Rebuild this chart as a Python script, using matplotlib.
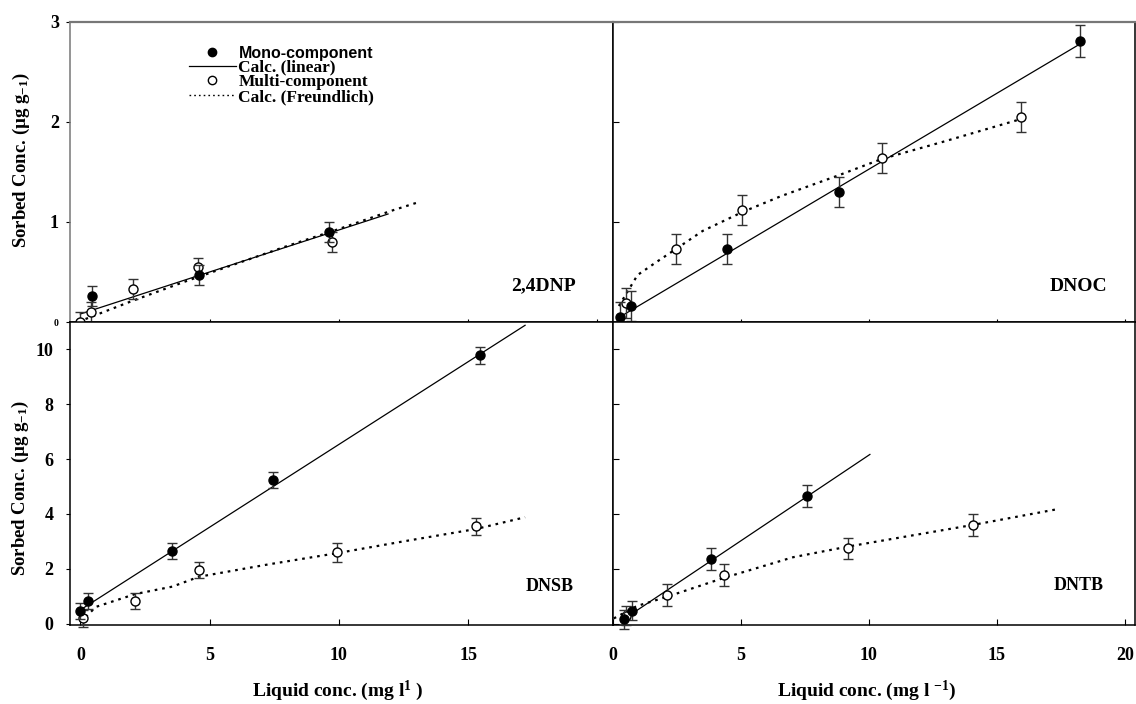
"""Sorption isotherms of four dinitro compounds: mono- vs multi-component."""
import matplotlib
matplotlib.use("Agg")
import matplotlib.pyplot as plt
from matplotlib.lines import Line2D

plt.rcParams["font.family"] = ["Liberation Serif", "DejaVu Serif"]
plt.rcParams["font.weight"] = "bold"
plt.rcParams["mathtext.fontset"] = "custom"
plt.rcParams["mathtext.rm"] = "Liberation Serif:bold"
plt.rcParams["mathtext.it"] = "Liberation Serif:bold"
plt.rcParams["mathtext.bf"] = "Liberation Serif:bold"

# ---------------------------------------------------------------------
# Data
# ---------------------------------------------------------------------
# 2,4DNP
DNP_MONO_X = [0.45, 4.6, 9.6]
DNP_MONO_Y = [0.26, 0.47, 0.90]
DNP_MONO_E = [0.10, 0.10, 0.10]
DNP_MULTI_X = [0.0, 0.4, 2.05, 4.55, 9.75]
DNP_MULTI_Y = [0.0, 0.10, 0.33, 0.55, 0.80]
DNP_MULTI_E = [0.10, 0.10, 0.10, 0.09, 0.10]
DNP_LIN_X = [0.0, 11.9]
DNP_LIN_Y = [0.08, 1.08]
DNP_FR_X = [0.2, 1.0, 2.0, 4.0, 6.0, 8.0, 10.0, 12.0, 13.1]
DNP_FR_Y = [0.03, 0.11, 0.21, 0.40, 0.58, 0.76, 0.93, 1.11, 1.20]

# DNOC
DNOC_MONO_X = [0.27, 0.72, 4.47, 8.85, 18.25]
DNOC_MONO_Y = [0.05, 0.16, 0.73, 1.30, 2.81]
DNOC_MONO_E = [0.15, 0.15, 0.15, 0.15, 0.16]
DNOC_MULTI_X = [0.5, 2.46, 5.06, 10.5, 15.95]
DNOC_MULTI_Y = [0.19, 0.73, 1.12, 1.64, 2.05]
DNOC_MULTI_E = [0.15, 0.15, 0.15, 0.15, 0.15]
DNOC_LIN_X = [0.2, 18.25]
DNOC_LIN_Y = [0.04, 2.78]
DNOC_FR_X = [0.23, 0.96, 1.7, 2.46, 3.5, 5.06, 6.58, 8.85, 10.5, 12.87, 15.95]
DNOC_FR_Y = [0.16, 0.47, 0.60, 0.73, 0.91, 1.10, 1.26, 1.47, 1.63, 1.80, 2.03]

# DNSB
DNSB_MONO_X = [0.0, 0.31, 3.53, 7.46, 15.45]
DNSB_MONO_Y = [0.47, 0.82, 2.65, 5.23, 9.78]
DNSB_MONO_E = [0.30, 0.30, 0.30, 0.30, 0.30]
DNSB_MULTI_X = [0.12, 2.13, 4.59, 9.93, 15.3]
DNSB_MULTI_Y = [0.19, 0.82, 1.95, 2.60, 3.55]
DNSB_MULTI_E = [0.30, 0.30, 0.30, 0.35, 0.30]
DNSB_LIN_X = [0.0, 17.2]
DNSB_LIN_Y = [0.50, 10.88]
DNSB_FR_X = [0.0, 0.6, 2.13, 3.56, 4.59, 7.27, 9.93, 12.5, 15.3, 17.2]
DNSB_FR_Y = [0.05, 0.61, 1.08, 1.35, 1.71, 2.16, 2.57, 3.00, 3.45, 3.88]

# DNTB
DNTB_MONO_X = [0.44, 0.76, 3.84, 7.59]
DNTB_MONO_Y = [0.16, 0.47, 2.35, 4.66]
DNTB_MONO_E = [0.35, 0.35, 0.40, 0.40]
DNTB_MULTI_X = [0.51, 2.11, 4.34, 9.18, 14.07]
DNTB_MULTI_Y = [0.29, 1.04, 1.76, 2.74, 3.60]
DNTB_MULTI_E = [0.35, 0.40, 0.40, 0.40, 0.40]
DNTB_LIN_X = [0.37, 10.04]
DNTB_LIN_Y = [0.13, 6.17]
DNTB_FR_X = [0.03, 0.93, 2.11, 4.34, 7.03, 9.18, 14.07, 17.4]
DNTB_FR_Y = [0.19, 0.64, 0.98, 1.67, 2.42, 2.81, 3.60, 4.18]

LEGEND_LABELS = ["Mono-component", "Calc. (linear)",
                 "Multi-component", "Calc. (Freundlich)"]
YLABEL = "Sorbed Conc. (µg g$_{-1}$)"
XLABEL_LEFT = "Liquid conc. (mg l$^{1}$ )"
XLABEL_RIGHT = "Liquid conc. (mg l $^{-1}$)"

W, H = 1136, 704
EB_COLOR = "#333333"


def panel(ax, mono, multi, lin, fr, name, name_xy, name_size):
    ax.plot(lin[0], lin[1], color="black", lw=0.9, clip_on=False, zorder=2)
    ax.plot(fr[0], fr[1], color="black", lw=1.6, ls=(0, (1.2, 2.2)),
            clip_on=False, zorder=2)
    eb = ax.errorbar(mono[0], mono[1], yerr=mono[2], fmt="o", ms=6.5,
                     mfc="black", mec="black", ecolor=EB_COLOR, elinewidth=1.0,
                     capsize=3.5, capthick=1.0, zorder=4)
    eb2 = ax.errorbar(multi[0], multi[1], yerr=multi[2], fmt="o", ms=6.5,
                      mfc="white", mec="black", mew=1.0, ecolor=EB_COLOR,
                      elinewidth=1.0, capsize=3.5, capthick=1.0, zorder=3)
    for c in (eb, eb2):
        for art in c.get_children():
            art.set_clip_on(False)
    ax.text(name_xy[0], name_xy[1], name, transform=ax.transAxes,
            ha="right", va="center", fontsize=name_size, fontweight="bold")
    for s in ax.spines.values():
        s.set_linewidth(1.1)


def main():
    fig = plt.figure(figsize=(W / 100, H / 100), dpi=100)
    lx, lw_ = 70 / W, 543 / W
    rx, rw = 613 / W, 522 / W
    ty, th = (H - 322) / H, 300 / H
    by, bh = (H - 625) / H, 303 / H
    ax_tl = fig.add_axes([lx, ty, lw_, th])
    ax_tr = fig.add_axes([rx, ty, rw, th])
    ax_bl = fig.add_axes([lx, by, lw_, bh])
    ax_br = fig.add_axes([rx, by, rw, bh])

    panel(ax_tl, (DNP_MONO_X, DNP_MONO_Y, DNP_MONO_E),
          (DNP_MULTI_X, DNP_MULTI_Y, DNP_MULTI_E),
          (DNP_LIN_X, DNP_LIN_Y), (DNP_FR_X, DNP_FR_Y),
          "2,4DNP", (0.932, 0.12), 14)
    panel(ax_tr, (DNOC_MONO_X, DNOC_MONO_Y, DNOC_MONO_E),
          (DNOC_MULTI_X, DNOC_MULTI_Y, DNOC_MULTI_E),
          (DNOC_LIN_X, DNOC_LIN_Y), (DNOC_FR_X, DNOC_FR_Y),
          "DNOC", (0.946, 0.117), 14)
    panel(ax_bl, (DNSB_MONO_X, DNSB_MONO_Y, DNSB_MONO_E),
          (DNSB_MULTI_X, DNSB_MULTI_Y, DNSB_MULTI_E),
          (DNSB_LIN_X, DNSB_LIN_Y), (DNSB_FR_X, DNSB_FR_Y),
          "DNSB", (0.928, 0.126), 13)
    panel(ax_br, (DNTB_MONO_X, DNTB_MONO_Y, DNTB_MONO_E),
          (DNTB_MULTI_X, DNTB_MULTI_Y, DNTB_MULTI_E),
          (DNTB_LIN_X, DNTB_LIN_Y), (DNTB_FR_X, DNTB_FR_Y),
          "DNTB", (0.939, 0.132), 13)

    # axes limits
    for ax in (ax_tl, ax_bl):
        ax.set_xlim(-0.4, 20.6)
    for ax in (ax_tr, ax_br):
        ax.set_xlim(0, 20.4)
    for ax in (ax_tl, ax_tr):
        ax.set_ylim(0, 3.0)
        ax.set_yticks([0, 1, 2, 3])
        ax.set_xticks([5, 10, 15, 20])
        ax.tick_params(axis="x", direction="inout", length=5, labelbottom=False)
        ax.spines["top"].set_color("#777777")
        ax.spines["top"].set_linewidth(1.6)
    for ax in (ax_bl, ax_br):
        ax.set_ylim(-0.05, 11.0)
        ax.set_yticks([0, 2, 4, 6, 8, 10])
        ax.tick_params(axis="x", direction="in", length=4, pad=16, labelsize=13)

    ax_bl.set_xticks([0, 5, 10, 15])
    ax_br.set_xticks([0, 5, 10, 15, 20])
    ax_tl.spines["left"].set_color("#777777")

    ax_tl.tick_params(axis="y", direction="out", length=3, pad=5, labelsize=13)
    ax_tl.set_yticklabels(["0", "1", "2", "3"])
    ax_tl.get_yticklabels()[0].set_fontsize(7)
    ax_bl.tick_params(axis="y", direction="out", length=3, pad=9, labelsize=13)
    for ax in (ax_tr, ax_br):
        ax.tick_params(axis="y", direction="in", length=4, labelleft=False)

    # axis titles
    ax_tl.set_ylabel(YLABEL, fontsize=13.5, fontweight="bold")
    ax_tl.yaxis.set_label_coords(-0.07, 0.54)
    ax_bl.set_ylabel(YLABEL, fontsize=13.5, fontweight="bold")
    ax_bl.yaxis.set_label_coords(-0.072, 0.45)
    ax_bl.set_xlabel(XLABEL_LEFT, fontsize=14, fontweight="bold")
    ax_bl.xaxis.set_label_coords(0.494, -0.178)
    ax_br.set_xlabel(XLABEL_RIGHT, fontsize=14, fontweight="bold")
    ax_br.xaxis.set_label_coords(0.487, -0.178)

    # legend
    handles = [
        Line2D([], [], ls="none", marker="o", ms=6, mfc="black", mec="black"),
        Line2D([], [], color="black", lw=0.9),
        Line2D([], [], ls="none", marker="o", ms=6, mfc="white", mec="black"),
        Line2D([], [], color="black", lw=1.0, ls=(0, (1.2, 2.2))),
    ]
    leg = ax_tl.legend(handles, LEGEND_LABELS, loc="upper left",
                       bbox_to_anchor=(0.203, 0.95), frameon=False,
                       borderpad=0, fontsize=12.5, handlelength=2.7,
                       handletextpad=0.15, labelspacing=-0.08)
    for t in leg.get_texts():
        t.set_fontweight("bold")
    leg.get_texts()[0].set_fontfamily(["Liberation Sans", "DejaVu Sans"])
    leg.get_texts()[0].set_fontsize(11.5)

    fig.savefig("out.png", dpi=100)
    plt.close(fig)


if __name__ == "__main__":
    main()
